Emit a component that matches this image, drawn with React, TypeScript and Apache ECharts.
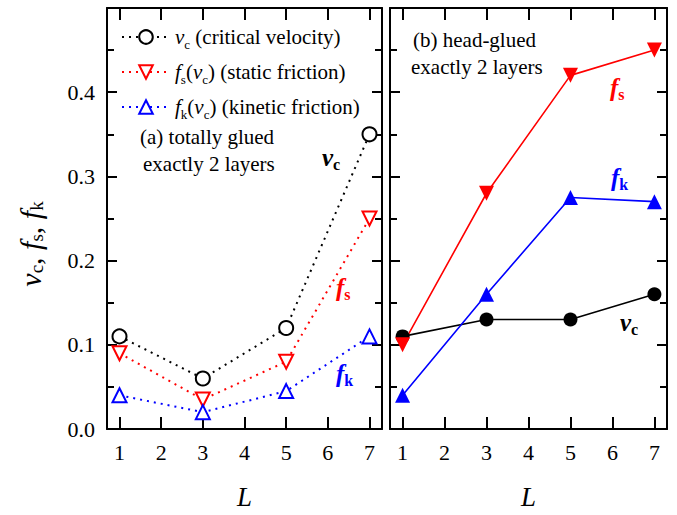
import React, { useEffect, useRef } from "react";
import * as echarts from "echarts";

const layers = [1, 3, 5, 7];
const xTicks = [1, 2, 3, 4, 5, 6, 7];
const vcTotally = [0.11, 0.06, 0.12, 0.35];
const fsTotally = [0.09, 0.035, 0.08, 0.25];
const fkTotally = [0.04, 0.02, 0.045, 0.11];
const vcHead = [0.11, 0.13, 0.13, 0.16];
const fsHead = [0.1, 0.28, 0.42, 0.45];
const fkHead = [0.04, 0.16, 0.275, 0.27];

const FONT = "Liberation Serif";
const RED = "#ff0000";
const BLUE = "#0000ff";

const pairs = (ys: number[]) => layers.map((l, i) => [l, ys[i]]);

const subRich = (color: string, size: number, bold: boolean, ratio = 0.62, mainLH = 28, subLH = 4) => ({
  i: { fontFamily: FONT, fontStyle: "italic", fontWeight: bold ? "bold" : "normal", fontSize: size, lineHeight: mainLH, color },
  s: { fontFamily: FONT, fontWeight: bold ? "bold" : "normal", fontSize: Math.round(size * ratio), lineHeight: subLH, verticalAlign: "bottom", color },
  n: { fontFamily: FONT, fontSize: size, lineHeight: mainLH, color },
});

export default function App() {
  const ref = useRef<HTMLDivElement>(null);
  useEffect(() => {
    if (!ref.current) return;
    const chart = echarts.init(ref.current, undefined, { renderer: "svg" });
    const axLine = { show: true, onZero: false, lineStyle: { color: "#000", width: 2 } };
    const xBottom = (gi: number) => ({
      type: "value", gridIndex: gi, min: 0.7, max: 7.3, position: "bottom",
      axisLine: axLine,
      axisTick: { show: true, inside: true, length: 12, customValues: xTicks, lineStyle: { color: "#000", width: 2 } },
      axisLabel: { show: true, customValues: xTicks, fontFamily: FONT, fontSize: 22, color: "#000", margin: 12 },
      splitLine: { show: false },
      name: "L", nameLocation: "middle", nameGap: 54,
      nameTextStyle: { fontFamily: FONT, fontStyle: "italic", fontSize: 27, color: "#000" },
    });
    const xTop = (gi: number) => ({
      type: "value", gridIndex: gi, min: 0.7, max: 7.3, position: "top",
      axisLine: axLine,
      axisTick: { show: true, inside: true, length: 12, customValues: xTicks, lineStyle: { color: "#000", width: 2 } },
      axisLabel: { show: false },
      splitLine: { show: false },
    });
    const yAx = (gi: number, pos: string, labels: boolean) => ({
      type: "value", gridIndex: gi, min: 0, max: 0.5, interval: 0.1, position: pos,
      axisLine: axLine,
      axisTick: { show: true, inside: true, length: 10, lineStyle: { color: "#000", width: 2 } },
      minorTick: { show: true, splitNumber: 2, length: 7, lineStyle: { color: "#000", width: 2 } },
      axisLabel: {
        show: labels, showMaxLabel: false, fontFamily: FONT, fontSize: 22, color: "#000", margin: 12,
        formatter: (v: number) => v.toFixed(1),
      },
      splitLine: { show: false },
    });

    const legendBase = {
      left: 121, orient: "horizontal", itemWidth: 48, itemHeight: 17, itemGap: 6, padding: 0,
      selectedMode: false,
      textStyle: { fontFamily: FONT, fontSize: 21, color: "#000", lineHeight: 28, rich: subRich("#000", 21, false) },
    };
    const legendText: Record<string, string> = {
      vc: "{i|v}{s|c} (critical velocity)",
      fs: "{i|f}{s|s}{n|(}{i|v}{s|c}{n|) (static friction)}",
      fk: "{i|f}{s|k}{n|(}{i|v}{s|c}{n|) (kinetic friction)}",
    };

    const openSeries = (name: string, ys: number[], color: string, symbol: string, rot: number) => ({
      type: "line", name, xAxisIndex: 0, yAxisIndex: 0, data: pairs(ys),
      symbol, symbolSize: 14, symbolRotate: rot,
      lineStyle: { color, width: 2, type: [2, 5] },
      itemStyle: { color, borderWidth: 1.3 },
      z: 3,
    });
    const fullSeries = (name: string, ys: number[], color: string, symbol: string, rot: number, size: number) => ({
      type: "line", name, xAxisIndex: 2, yAxisIndex: 2, data: pairs(ys),
      symbol, symbolSize: size, symbolRotate: rot,
      lineStyle: { color, width: 1.6 },
      itemStyle: { color },
      z: 3,
    });

    const txt = (x: number, y: number, text: string, color: string, size: number, bold: boolean) => ({
      type: "text", x, y, z: 10,
      style: { text, fontFamily: FONT, fontSize: size, fill: color, align: "left", verticalAlign: "middle", rich: subRich(color, size, bold, 0.62, 30, 6) },
    });
    const plain = (x: number, y: number, text: string) => ({
      type: "text", x, y, z: 10,
      style: { text, fontFamily: FONT, fontSize: 21, fill: "#000", verticalAlign: "middle" },
    });

    chart.setOption({
      animation: false,
      backgroundColor: "#fff",
      textStyle: { fontFamily: FONT },
      grid: [
        { left: 107, top: 8, width: 275, height: 424 },
        { left: 390, top: 8, width: 277, height: 424 },
      ],
      xAxis: [xBottom(0), xTop(0), xBottom(1), xTop(1)],
      yAxis: [yAx(0, "left", true), yAx(0, "right", false), yAx(1, "left", false), yAx(1, "right", false)],
      legend: [
        { ...legendBase, top: 23, data: ["vc"], formatter: () => legendText.vc },
        { ...legendBase, top: 58, data: ["fs"], formatter: () => legendText.fs },
        { ...legendBase, top: 93, data: ["fk"], formatter: () => legendText.fk },
      ],
      series: [
        openSeries("vc", vcTotally, "#000", "emptyCircle", 0),
        openSeries("fs", fsTotally, RED, "emptyTriangle", 180),
        openSeries("fk", fkTotally, BLUE, "emptyTriangle", 0),
        fullSeries("vcB", vcHead, "#000", "circle", 0, 14),
        fullSeries("fsB", fsHead, RED, "triangle", 180, 15),
        fullSeries("fkB", fkHead, BLUE, "triangle", 0, 15),
      ],
      graphic: [
        {
          type: "text", x: 30, y: 244, rotation: Math.PI / 2, z: 10,
          style: {
            text: "{i|v}{s|c}{n|, }{i|f}{s|s}{n|, }{i|f}{s|k}",
            fontFamily: FONT, fontSize: 30, align: "center", verticalAlign: "middle",
            rich: subRich("#000", 30, false, 0.62, 32, 6),
          },
        },
        plain(140, 137, "(a) totally glued"),
        plain(143, 164, "exactly 2 layers"),
        plain(413, 40, "(b) head-glued"),
        plain(411, 67, "exactly 2 layers"),
        txt(322, 157, "{i|v}{s|c}", "#000", 25, true),
        txt(336, 287, "{i|f}{s|s}", RED, 25, true),
        txt(336, 373, "{i|f}{s|k}", BLUE, 25, true),
        txt(610, 87, "{i|f}{s|s}", RED, 25, true),
        txt(611, 177, "{i|f}{s|k}", BLUE, 25, true),
        txt(620, 322, "{i|v}{s|c}", "#000", 25, true),
      ],
    });
    return () => chart.dispose();
  }, []);
  return (
    <div
      ref={ref}
      style={{ position: "fixed", left: 0, top: 0, width: 677, height: 515, background: "#fff" }}
    />
  );
}
